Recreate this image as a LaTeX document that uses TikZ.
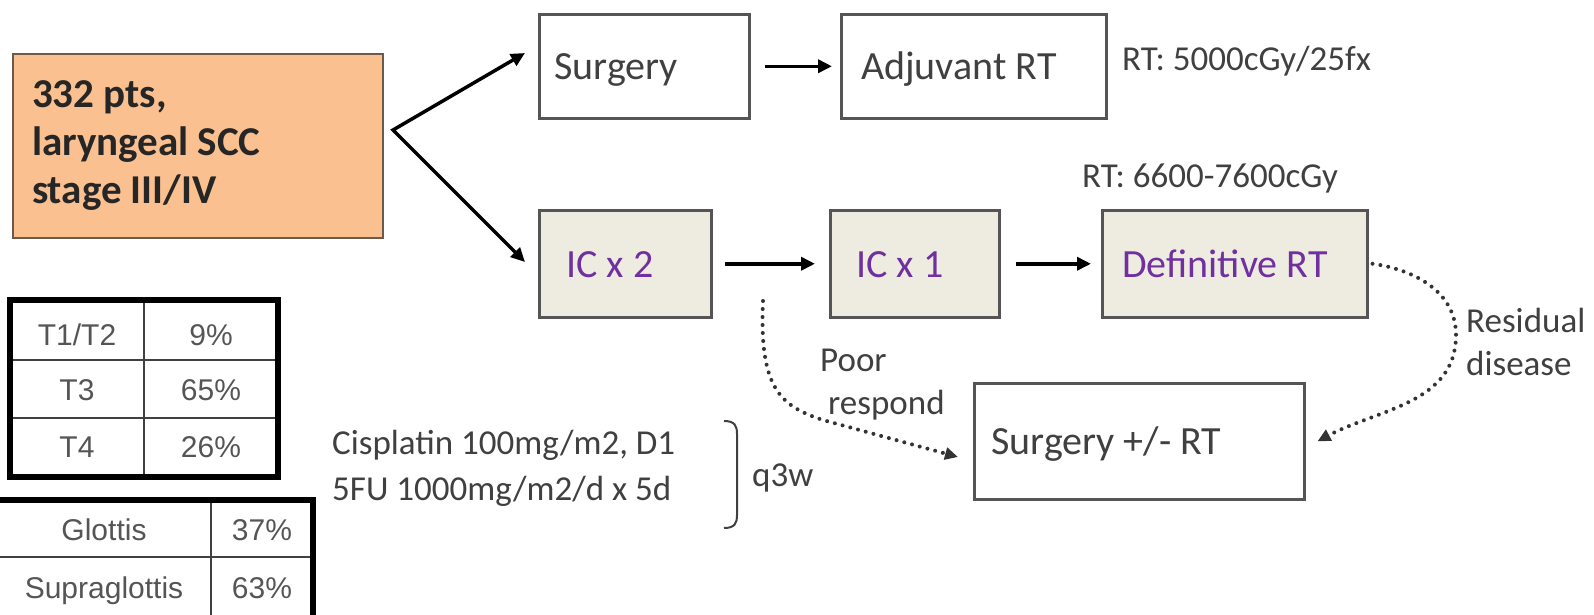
\documentclass[tikz,border=0pt]{standalone}
\usepackage{fontspec}
\setmainfont{Carlito}
\newfontfamily\arialf{Liberation Sans}
\usetikzlibrary{arrows.meta}
\definecolor{peach}{HTML}{FAC090}
\definecolor{peachline}{HTML}{6E5A4A}
\definecolor{greyfill}{HTML}{EEECE1}
\definecolor{boxline}{HTML}{555555}
\definecolor{txt}{HTML}{404040}
\definecolor{purp}{HTML}{7030A0}
\definecolor{tabtxt}{HTML}{555555}
\tikzset{
  box/.style={draw=boxline, line width=2.5pt, anchor=north west, inner ysep=0pt,
    text=txt, font=\fontsize{40}{44}\selectfont, text height=27pt, text depth=0pt,
    execute at begin node={\spaceskip=0pt\xspaceskip=0pt}},
  whitebox/.style={box, fill=white},
  greybox/.style={box, fill=greyfill, text=purp},
  arr/.style={line width=3.5pt, draw=black, -{Triangle[length=14pt,width=13pt]}},
  dots/.style={draw=txt!80!black, line width=4pt, line cap=round, dash pattern=on 0pt off 8pt,
    -{Triangle[length=13pt,width=12pt]}},
  lbl/.style={inner sep=0pt, anchor=base west, text=txt, font=\fontsize{35}{40}\selectfont},
  cell/.style={inner sep=0pt, text=tabtxt, font=\arialf\fontsize{30}{34}\selectfont,
    text height=21pt, text depth=0pt},
  tabouter/.style={draw=black, line width=6pt},
  tabinner/.style={draw=txt, line width=1.6pt},
}
\begin{document}
\begin{tikzpicture}[x=1pt,y=-1pt]
\useasboundingbox (0,0) rectangle (1594,614);
\clip (0,0) rectangle (1594,614);
\fill[white] (0,0) rectangle (1594,614);

% main box
\node[box, fill=peach, draw=peachline, line width=2pt, minimum width=370pt, minimum height=184pt,
  text width=332pt, inner xsep=19pt, text height=, text depth=, text=black!85,
  font=\bfseries\fontsize{41}{48}\selectfont] (pts) at (12,53)
  {332 pts,\\laryngeal SCC\\stage III/IV};

% flow boxes
\node[whitebox, minimum width=210pt, minimum height=104pt, text width=180pt, inner xsep=15pt] (surg) at (538,13) {Surgery};
\node[whitebox, minimum width=265pt, minimum height=104pt, text width=225pt, inner xsep=20pt] (adj) at (840,13) {Adjuvant RT};
\node[greybox, minimum width=172pt, minimum height=107pt, text width=118pt, inner xsep=27pt] (ic2) at (538,209) {IC x 2};
\node[greybox, minimum width=169pt, minimum height=107pt, text width=117pt, inner xsep=26pt] (ic1) at (829,209) {IC x 1};
\node[greybox, minimum width=265pt, minimum height=107pt, text width=225pt, inner xsep=20pt] (def) at (1101,209) {Definitive RT};
\node[whitebox, minimum width=330pt, minimum height=116pt, text width=296pt, inner xsep=17pt] (sp) at (973,382) {Surgery +/- RT};

% labels
\node[lbl] (rt1) at (1122,70) {RT: 5000cGy/25fx};
\node[lbl] (rt2) at (1082,187) {RT: 6600-7600cGy};
\node[lbl] (poor) at (820,371) {Poor};
\node[lbl] (resp) at (828,414) {respond};
\node[lbl] (resid) at (1466,332) {Residual};
\node[lbl] (dis) at (1466,375) {disease};
\node[lbl] (cis) at (332,454) {Cisplatin 100mg/m2, D1};
\node[lbl] (fu) at (332,500) {5FU 1000mg/m2/d x 5d};
\node[lbl] (q3w) at (752,486) {q3w};

% bracket
\draw[draw=txt, line width=2pt] (724,421) .. controls (735,421) and (737,426) .. (737,434)
  -- (737,515) .. controls (737,523) and (735,528) .. (724,528);

% split arrows
\coordinate (split) at (393,130);
\coordinate (tipA) at (525,53);
\coordinate (tipB) at (525,262);
\draw[line width=3.5pt, line join=miter, {Triangle[length=14pt,width=13pt]}-{Triangle[length=14pt,width=13pt]}]
  (tipA) -- (split) -- (tipB);

% straight arrows
\draw[arr] ([xshift=14pt]surg.east) -- ([xshift=-8pt]adj.west);
\draw[arr] ([xshift=12pt]ic2.east) -- ([xshift=-14pt]ic1.west);
\draw[arr] ([xshift=15pt]ic1.east) -- ([xshift=-10pt]def.west);

% dotted arrows
\coordinate (poorS) at (763,301);
\coordinate (poorM) at (823,420);
\coordinate (poorE) at (958,457);
\draw[dots] (poorS) .. controls (759,388) and (780,406) .. (poorM) -- (poorE);
\coordinate (resR) at (1456,335);
\draw[dots] ([xshift=4pt]def.east) to[out=-8,in=90] (resR) to[out=-90,in=28] ([xshift=12pt]sp.east);

% table 1
\draw[tabinner] (144,300) -- (144,477);
\draw[tabinner] (10,360) -- (278,360);
\draw[tabinner] (10,418) -- (278,418);
\draw[tabouter] (10,300) rectangle (278,477);
\node[cell] (c11) at (77,335) {T1/T2};
\node[cell] (c12) at (211,335) {9\%};
\node[cell] (c21) at (77,390) {T3};
\node[cell] (c22) at (211,390) {65\%};
\node[cell] (c31) at (77,447) {T4};
\node[cell] (c32) at (211,447) {26\%};

% table 2
\draw[tabinner] (211,500) -- (211,640);
\draw[tabinner] (-10,557) -- (313,557);
\draw[tabouter] (-10,500) rectangle (313,640);
\node[cell] (d11) at (104,530) {Glottis};
\node[cell] (d12) at (262,530) {37\%};
\node[cell] (d21) at (104,588) {Supraglottis};
\node[cell] (d22) at (262,588) {63\%};
\end{tikzpicture}
\end{document}
